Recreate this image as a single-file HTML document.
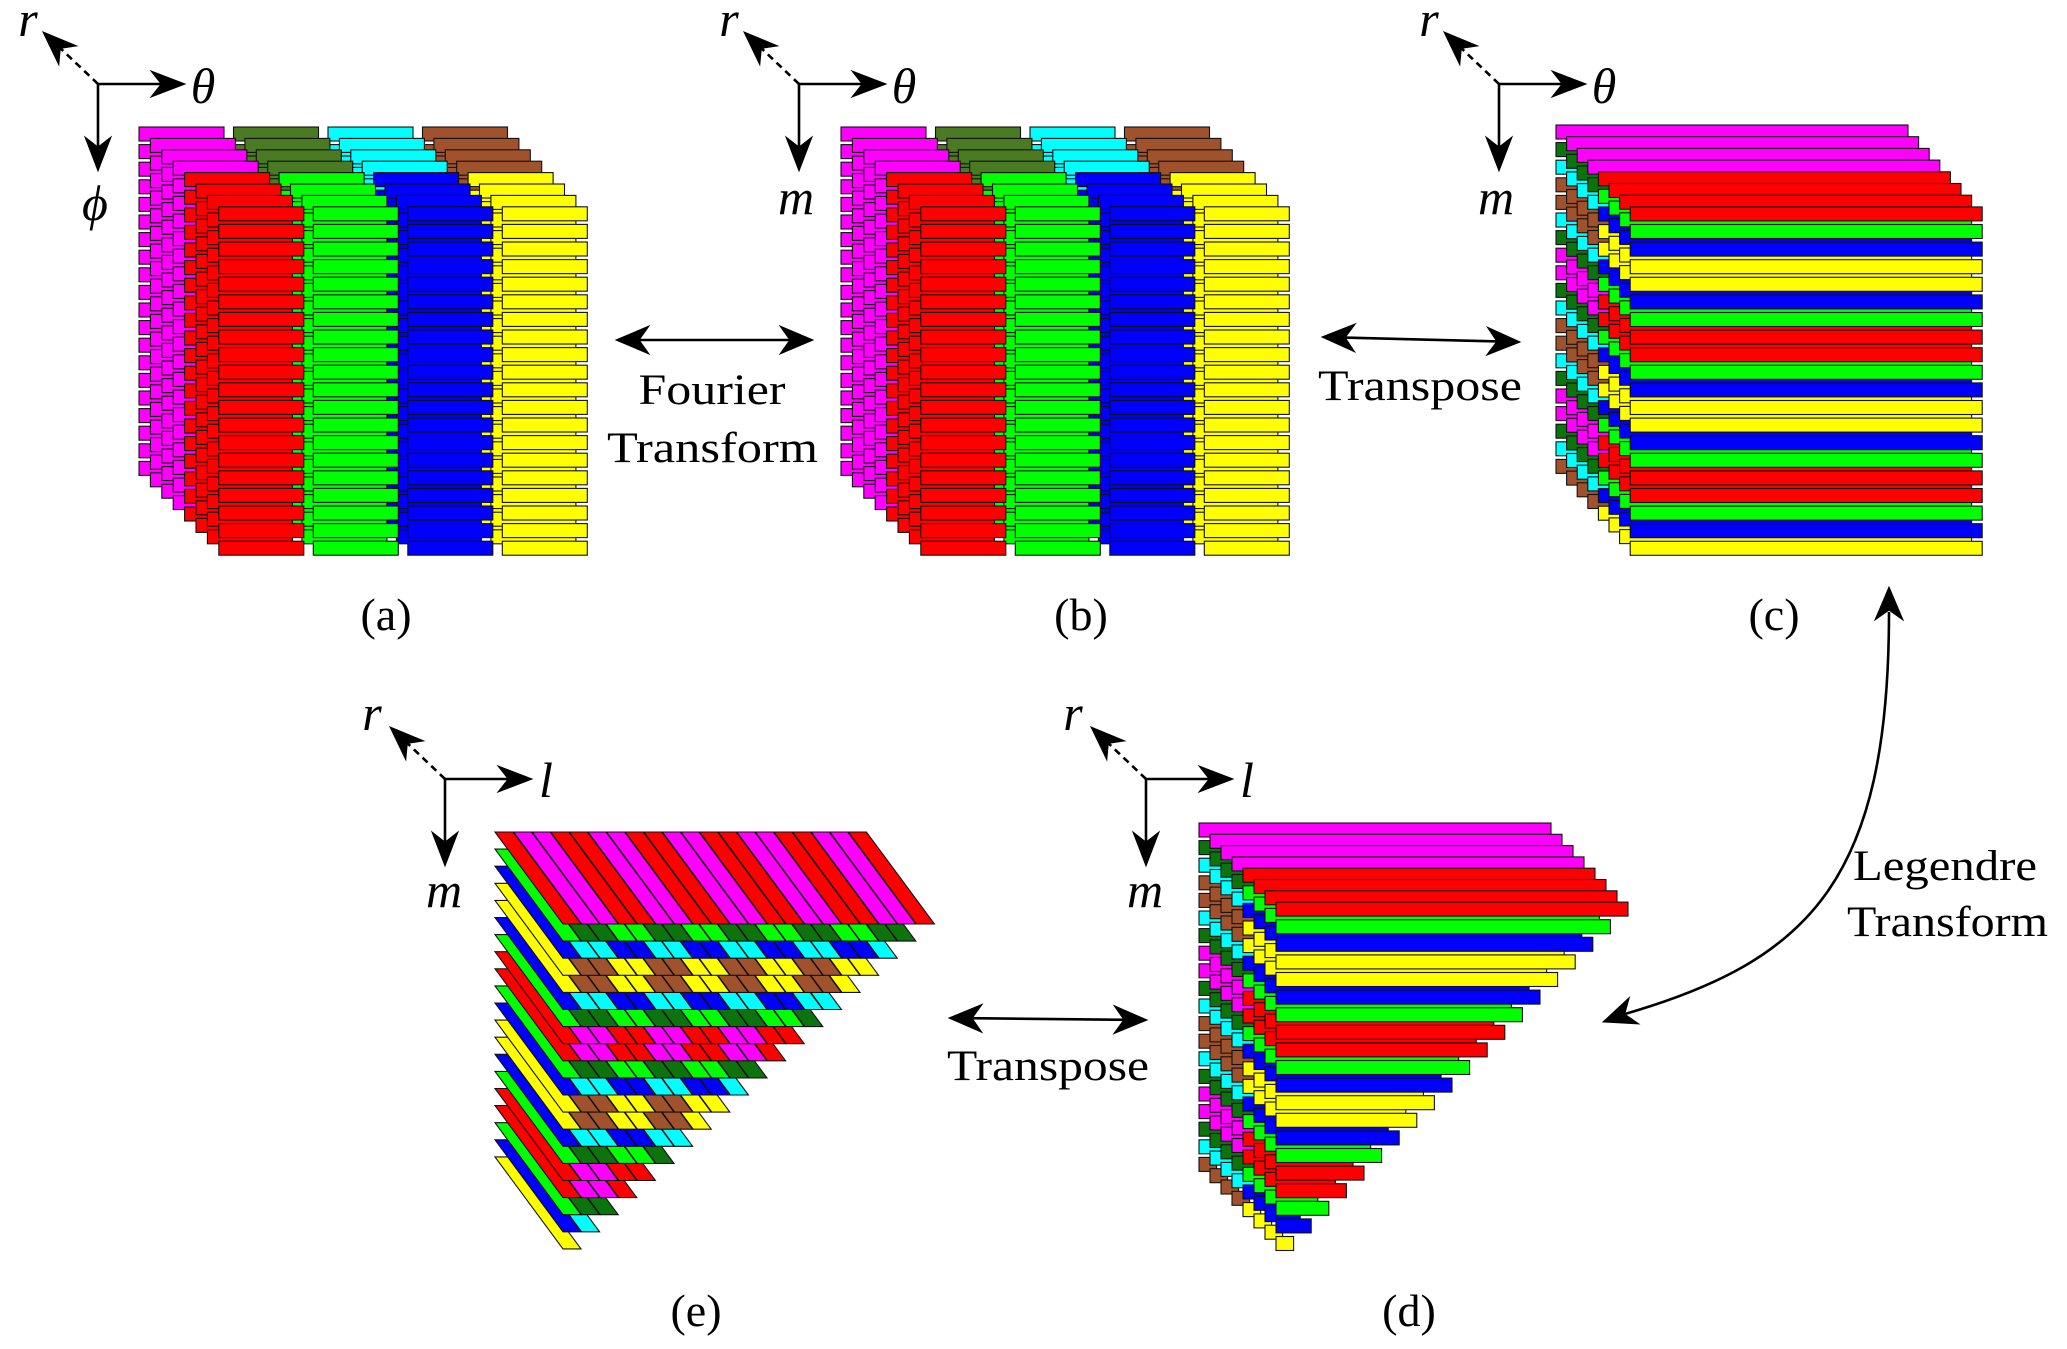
<!DOCTYPE html>
<html><head><meta charset="utf-8"><style>
html,body{margin:0;padding:0;background:#fff;}
svg{display:block}
text{font-family:"Liberation Serif",serif;fill:#000}
</style></head><body>
<svg id="s" xmlns="http://www.w3.org/2000/svg" width="2067" height="1349" viewBox="0 0 2067 1349">
<rect width="2067" height="1349" fill="#fff"/>
<g id="g"></g>
<text x="712" y="404" font-size="43" text-anchor="middle" textLength="147" lengthAdjust="spacingAndGlyphs">Fourier</text>
<text x="607" y="462" font-size="43" textLength="211" lengthAdjust="spacingAndGlyphs">Transform</text>
<text x="1318" y="400" font-size="43" textLength="204" lengthAdjust="spacingAndGlyphs">Transpose</text>
<text x="947" y="1080" font-size="43" textLength="202" lengthAdjust="spacingAndGlyphs">Transpose</text>
<text x="1853" y="880" font-size="43" textLength="184" lengthAdjust="spacingAndGlyphs">Legendre</text>
<text x="1847" y="936" font-size="43" textLength="201" lengthAdjust="spacingAndGlyphs">Transform</text>
<text x="386" y="630" font-size="46" text-anchor="middle">(a)</text>
<text x="1081" y="630" font-size="46" text-anchor="middle">(b)</text>
<text x="1774" y="630" font-size="46" text-anchor="middle">(c)</text>
<text x="696" y="1326" font-size="46" text-anchor="middle">(e)</text>
<text x="1409" y="1326" font-size="46" text-anchor="middle">(d)</text>
<g font-style="italic" font-size="50" text-anchor="middle">
<text x="28" y="36">r</text><text x="203" y="103">θ</text><text x="95" y="220">ϕ</text>
<text x="729" y="36">r</text><text x="904" y="103">θ</text><text x="796" y="214">m</text>
<text x="1429" y="36">r</text><text x="1604" y="103">θ</text><text x="1496" y="214">m</text>
<text x="372" y="730">r</text><text x="546" y="797">l</text><text x="444" y="907">m</text>
<text x="1073" y="730">r</text><text x="1247" y="797">l</text><text x="1145" y="907">m</text>
</g>
</svg>
<script>
const g=document.getElementById('g');let h='';
const F=['#ff0000','#00ff00','#0000ff','#ffff00'];
const mi=r=>[0,1,2,3,3,2,1,0][r%8];
function rect(x,y,w,hh,c){h+=`<rect x="${x.toFixed(1)}" y="${y.toFixed(1)}" width="${w.toFixed(1)}" height="${hh}" fill="${c}" stroke="#111" stroke-width="1.1"/>`;}
[0,702].forEach(ox=>{
 const BK=['#ff00ff','#4a7a22','#00ffff','#a0522d'];
 for(let k=0;k<8;k++){const d=k*11.4;const pal=k<4?BK:F;
  for(let r=0;r<20;r++)for(let c=0;c<4;c++)rect(139+ox+d+c*94.5,127+d+r*17.6,85,14,pal[c]);}
});
const BK2=['#ff00ff','#0d730d','#00ffff','#a0522d'];
for(let k=0;k<8;k++){const pal=k<4?BK2:F;
 for(let r=0;r<20;r++)rect(1556+k*10.6,125+k*11.7+r*17.6,352,14,pal[mi(r)]);}
for(let k=0;k<8;k++){const pal=k<4?BK2:F;
 for(let r=0;r<20;r++)rect(1199+k*11,823+k*11.3+r*17.6,352-r*17.6,14,pal[mi(r)]);}
for(let r=19;r>=0;r--){for(let c=0;c<20-r;c++){
 const x=495+c*18.6,y=832+r*17.1;const pal=(c%4==0||c%4==3)?F:BK2;
 h+=`<polygon points="${x},${y} ${x+18},${y} ${x+86},${y+92} ${x+68},${y+92}" fill="${pal[mi(r)]}" stroke="#111" stroke-width="1.1"/>`;}}
function head(tx,ty,ux,uy,L,W){const px=-uy,py=ux;const bx=tx-ux*L,by=ty-uy*L;const nx=tx-ux*L*0.7,ny=ty-uy*L*0.7;
 h+=`<path d="M${tx},${ty} L${bx+px*W},${by+py*W} L${nx},${ny} L${bx-px*W},${by-py*W} Z" fill="#000" stroke="#000" stroke-width="1" stroke-linejoin="miter"/>`;}
function line(x1,y1,x2,y2,dash){h+=`<line x1="${x1}" y1="${y1}" x2="${x2}" y2="${y2}" stroke="#000" stroke-width="2.6" ${dash?'stroke-dasharray="7,5"':''}/>`;}
function axis(ox,oy){line(ox,oy,ox+64,oy);head(ox+87,oy,1,0,34,13);line(ox,oy,ox,oy+64);head(ox,oy+87,0,1,34,13);
 line(ox,oy,ox-40,oy-38,true);head(ox-55,oy-52,-0.727,-0.687,34,13);}
axis(98,84);axis(799,84);axis(1499,84);axis(445,779);axis(1146,779);
function dbl(x1,y1,x2,y2){const dx=x2-x1,dy=y2-y1,l=Math.hypot(dx,dy),ux=dx/l,uy=dy/l;
 line(x1+ux*22,y1+uy*22,x2-ux*22,y2-uy*22);head(x2,y2,ux,uy,33,14);head(x1,y1,-ux,-uy,33,14);}
dbl(616,340,813,340);dbl(1322,337,1520,342);dbl(949,1018,1147,1020);
h+=`<path d="M1889,612 C1889,880 1810,960 1625,1014" fill="none" stroke="#000" stroke-width="2.6"/>`;
head(1889,587,0,-1,33,14);head(1603,1022,-0.94,0.34,33,14);
g.innerHTML=h;
</script>
</body></html>
